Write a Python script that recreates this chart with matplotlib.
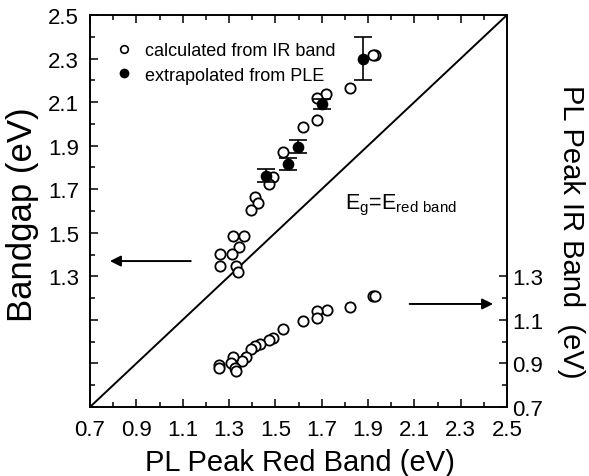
import numpy as np
import matplotlib
matplotlib.use("Agg")
import matplotlib.pyplot as plt
from matplotlib.ticker import FixedLocator
from matplotlib.lines import Line2D

plt.rcParams['font.family'] = ['Liberation Sans', 'DejaVu Sans']

# bandgap calculated from IR band (left axis)
calc_x = [1.930, 1.920, 1.822, 1.719, 1.681, 1.681, 1.621, 1.532, 1.491, 1.474,
          1.412, 1.427, 1.394, 1.366, 1.318, 1.344, 1.261, 1.311, 1.261, 1.330, 1.340]
calc_y = [2.316, 2.316, 2.163, 2.136, 2.118, 2.019, 1.987, 1.870, 1.755, 1.724,
          1.663, 1.637, 1.605, 1.487, 1.487, 1.434, 1.403, 1.403, 1.348, 1.348, 1.318]

# bandgap extrapolated from PLE
ple_x = [1.878, 1.700, 1.599, 1.556, 1.460]
ple_y = [2.300, 2.091, 1.895, 1.816, 1.762]
ple_err = [0.100, 0.025, 0.030, 0.027, 0.030]

# PL peak IR band (right axis)
ir_x = [1.923, 1.930, 1.822, 1.721, 1.681, 1.681, 1.621, 1.532, 1.491, 1.474,
        1.434, 1.412, 1.394, 1.373, 1.354, 1.319, 1.307, 1.326, 1.330, 1.258, 1.258]
ir_y = [1.208, 1.208, 1.158, 1.147, 1.142, 1.107, 1.096, 1.058, 1.017, 1.009,
        0.989, 0.982, 0.967, 0.930, 0.913, 0.928, 0.901, 0.878, 0.864, 0.894, 0.879]

x_ticks = [0.7, 0.9, 1.1, 1.3, 1.5, 1.7, 1.9, 2.1, 2.3, 2.5]
minor_ticks = [0.8, 1.0, 1.2, 1.4, 1.6, 1.8, 2.0, 2.2, 2.4]
left_labels = [1.3, 1.5, 1.7, 1.9, 2.1, 2.3, 2.5]
right_ticks = [0.7, 0.9, 1.1, 1.3]
right_minor = [0.8, 1.0, 1.2]

fig = plt.figure(figsize=(5.89, 4.77), dpi=100)
ax = fig.add_axes([0.1528, 0.1447, 0.708, 0.8218])
ax2 = ax.twinx()

ms = 7.4
mew = 1.3
ax.plot(calc_x, calc_y, 'o', mfc='white', mec='black', ms=ms, mew=mew, zorder=3)
ax.errorbar(ple_x, ple_y, yerr=ple_err, fmt='o', color='black', ms=ms,
            capsize=6.5, elinewidth=1.2, capthick=1.2, zorder=4)
ax.plot(ir_x, ir_y, 'o', mfc='white', mec='black', ms=ms, mew=mew, zorder=3)

# E_g = E_red band
ax.plot([0.7, 2.5], [0.7, 2.5], color='black', lw=1.4, zorder=2)
ax.text(1.80, 1.63, r'E$_\mathregular{g}$=E$_\mathregular{red\ band}$', fontsize=15.5,
        va='center', ha='left')

ax.annotate('', xy=(0.786, 1.37), xytext=(1.135, 1.37),
            arrowprops=dict(arrowstyle='-|>', color='black', lw=1.4,
                            mutation_scale=16, shrinkA=0, shrinkB=0))
ax.annotate('', xy=(2.44, 1.173), xytext=(2.08, 1.173),
            arrowprops=dict(arrowstyle='-|>', color='black', lw=1.4,
                            mutation_scale=16, shrinkA=0, shrinkB=0))

for a in (ax, ax2):
    a.set_xlim(0.7, 2.5)
    a.set_ylim(0.7, 2.5)
    for s in a.spines.values():
        s.set_linewidth(1.2)

ax.xaxis.set_major_locator(FixedLocator(x_ticks))
ax.xaxis.set_minor_locator(FixedLocator(minor_ticks))
ax.set_xticklabels([f'{v:.1f}' for v in x_ticks])
ax.yaxis.set_major_locator(FixedLocator(x_ticks))
ax.yaxis.set_minor_locator(FixedLocator(minor_ticks))
ax.set_yticklabels([f'{v:.1f}' if v in left_labels else '' for v in x_ticks])
ax.tick_params(which='both', direction='in', top=True, right=False, width=1.1)
ax.tick_params(which='major', length=6)
ax.tick_params(which='minor', length=3.5)
ax.tick_params(axis='x', labelsize=16, pad=9)
ax.tick_params(axis='y', labelsize=16, pad=8)

ax2.yaxis.set_major_locator(FixedLocator(right_ticks))
ax2.yaxis.set_minor_locator(FixedLocator(right_minor))
ax2.set_yticklabels([f'{v:.1f}' for v in right_ticks])
ax2.tick_params(which='both', direction='in', width=1.1, labelsize=16, pad=4)
ax2.tick_params(which='major', length=6)
ax2.tick_params(which='minor', length=3.5)

ax.set_xlabel('PL Peak Red Band (eV)', fontsize=21, va='center')
ax.xaxis.set_label_coords(0.503, -0.14)
ax.set_ylabel('Bandgap (eV)', fontsize=25, va='center')
ax.yaxis.set_label_coords(-0.163, 0.492)
ax2.set_ylabel('PL Peak IR Band  (eV)', fontsize=21, rotation=-90, va='center')
ax2.yaxis.set_label_coords(1.153, 0.449)

handles = [Line2D([], [], ls='none', marker='o', mfc='white', mec='black', ms=5.5, mew=1.2),
           Line2D([], [], ls='none', marker='o', color='black', ms=6)]
ax.legend(handles, ['calculated from IR band', 'extrapolated from PLE'],
          loc='upper left', bbox_to_anchor=(0.059, 0.93), frameon=False,
          fontsize=13, handlelength=1.0, handletextpad=0.7, labelspacing=0.4,
          borderpad=0, borderaxespad=0)

fig.savefig('out.png', dpi=100)
